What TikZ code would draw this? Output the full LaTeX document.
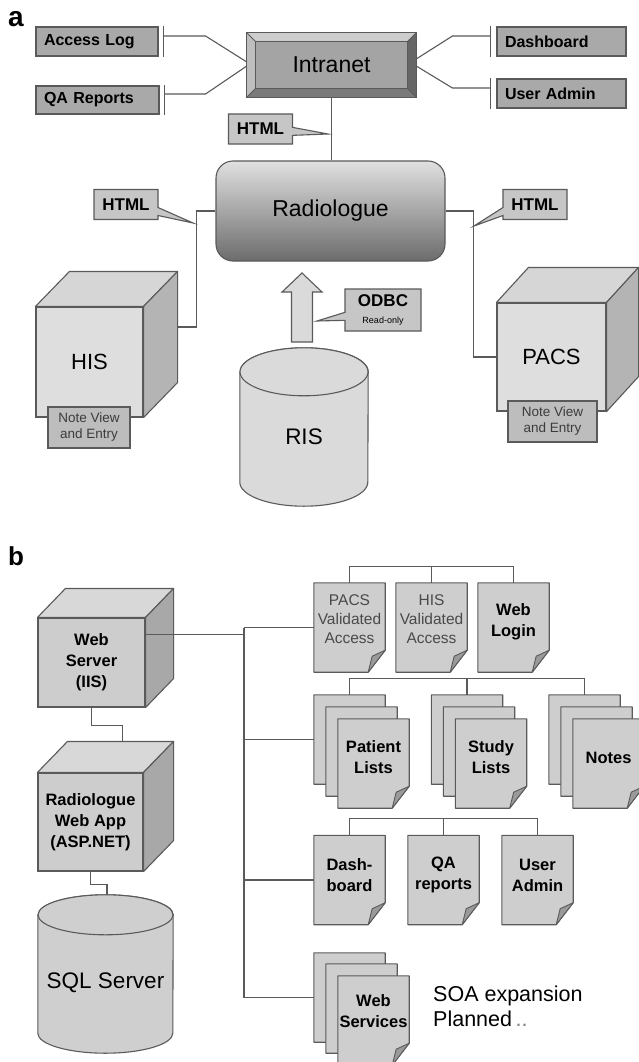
\documentclass[tikz,border=0pt]{standalone}
\usepackage{fontspec}
\setmainfont{Liberation Sans}
\usetikzlibrary{shapes.callouts,backgrounds,calc}

\definecolor{linec}{HTML}{5A5A5A}
\definecolor{boxa}{HTML}{A9A9A9}
\definecolor{calloutc}{HTML}{C6C6C6}
\definecolor{notec}{HTML}{BDBDBD}
\definecolor{notetext}{HTML}{3C3C3C}
\definecolor{cubeA}{HTML}{DEDEDE}
\definecolor{cubeAtop}{HTML}{D6D6D6}
\definecolor{cubeAside}{HTML}{B4B4B4}
\definecolor{cubeB}{HTML}{CDCDCD}
\definecolor{cubeBtop}{HTML}{D8D8D8}
\definecolor{cubeBside}{HTML}{A8A8A8}
\definecolor{docc}{HTML}{CECECE}
\definecolor{foldc}{HTML}{9A9A9A}
\definecolor{cylA}{HTML}{DADADA}
\definecolor{cylB}{HTML}{CFCFCF}
\definecolor{radtop}{HTML}{E0E0E0}
\definecolor{radbot}{HTML}{6C6C6C}
\definecolor{bevface}{HTML}{A4A4A4}
\definecolor{bevtop}{HTML}{CDCDCD}
\definecolor{bevleft}{HTML}{BEBEBE}
\definecolor{bevright}{HTML}{666666}
\definecolor{bevbot}{HTML}{7A7A7A}
\definecolor{graytext}{HTML}{4A4A4A}

\tikzset{
  conn/.style={draw=linec, line width=1.1pt},
  sideboxL/.style={draw=linec, fill=boxa, line width=1.1pt, minimum height=29pt, inner xsep=8pt, inner ysep=0pt,
    text width=106pt, align=left, font=\bfseries\fontsize{16}{19}\selectfont},
  sideboxR/.style={sideboxL, text width=113pt},
  callbox/.style={rectangle callout, draw=linec, fill=calloutc, line width=1.1pt, callout pointer width=8pt,
    minimum width=64pt, minimum height=30pt, inner sep=0pt, font=\bfseries\fontsize{17}{20}\selectfont},
  notebox/.style={draw=linec, fill=notec, line width=1.1pt, inner sep=0pt, align=center, text=notetext,
    minimum width=82pt, minimum height=41pt, font=\fontsize{13.5}{16}\selectfont},
  cubeAfront/.style={draw=linec, fill=cubeA, line width=1.1pt, inner sep=0pt, font=\fontsize{22}{26}\selectfont},
  cubeBfront/.style={draw=linec, fill=cubeB, line width=1.1pt, inner sep=0pt, align=center,
    font=\bfseries\fontsize{16.5}{21}\selectfont},
  docbox/.style={inner sep=0pt, minimum width=71pt, minimum height=89pt},
  doctextB/.style={inner sep=0pt, align=center, font=\bfseries\fontsize{16.5}{21}\selectfont},
  doctextG/.style={inner sep=0pt, align=center, text=graytext, font=\fontsize{15.5}{19}\selectfont},
  bigtext/.style={inner sep=0pt, font=\fontsize{22.5}{26}\selectfont},
  panel/.style={inner sep=0pt, font=\bfseries\fontsize{28}{30}\selectfont},
}

\newcommand\cubefaces[5]{%
  \begin{scope}[on background layer]
    \filldraw[draw=linec, fill=#4, line width=1.1pt, line join=round]
      (#1.north west) -- ($(#1.north west)+(#2,-#3)$) -- ($(#1.north east)+(#2,-#3)$) -- (#1.north east) -- cycle;
    \filldraw[draw=linec, fill=#5, line width=1.1pt, line join=round]
      (#1.north east) -- ($(#1.north east)+(#2,-#3)$) -- ($(#1.south east)+(#2,-#3)$) -- (#1.south east) -- cycle;
  \end{scope}}

\newcommand\docpage[1]{%
  \begin{scope}[on background layer]
    \filldraw[draw=linec, fill=docc, line width=1.1pt, line join=round]
      (#1.north west) -- (#1.north east) -- ($(#1.south east)+(0,-22)$) -- ($(#1.south east)+(-17,0)$) -- (#1.south west) -- cycle;
    \filldraw[draw=linec, fill=foldc, line width=0.9pt, line join=round]
      ($(#1.south east)+(0,-22)$) -- ($(#1.south east)+(-13,-16)$) -- ($(#1.south east)+(-17,0)$) -- cycle;
  \end{scope}}

\newcommand\cylfaces[4]{%
  \begin{scope}[on background layer]
    \filldraw[draw=linec, fill=#4, line width=1.1pt]
      (#1.north west) -- (#1.south west) arc[start angle=180, end angle=360, x radius=#2pt, y radius=#3pt]
      -- (#1.north east) arc[start angle=0, end angle=180, x radius=#2pt, y radius=#3pt] -- cycle;
    \filldraw[draw=linec, fill=#4, line width=1.1pt] (#1.north) ellipse[x radius=#2pt, y radius=#3pt];
  \end{scope}}

\begin{document}
\begin{tikzpicture}[x=1pt,y=-1pt]
\begin{scope}[on background layer]
  \fill[white] (0,0) rectangle (639,1062);
\end{scope}
\useasboundingbox (0,0) rectangle (639,1062);

%================ panel a ================
\node[panel] (la) at (16,19) {a};

% Intranet (bevelled)
\node[inner sep=0pt, minimum width=169pt, minimum height=64pt, font=\fontsize{23}{26}\selectfont] (intranet) at (331.5,65) {Intranet};
\begin{scope}[on background layer]
  \coordinate (iA) at ($(intranet.north west)+(9,9)$);
  \coordinate (iB) at ($(intranet.north east)+(-9,9)$);
  \coordinate (iC) at ($(intranet.south east)+(-9,-9)$);
  \coordinate (iD) at ($(intranet.south west)+(9,-9)$);
  \fill[bevtop] (intranet.north west) -- (intranet.north east) -- (iB) -- (iA) -- cycle;
  \fill[bevright] (intranet.north east) -- (intranet.south east) -- (iC) -- (iB) -- cycle;
  \fill[bevbot] (intranet.south east) -- (intranet.south west) -- (iD) -- (iC) -- cycle;
  \fill[bevleft] (intranet.south west) -- (intranet.north west) -- (iA) -- (iD) -- cycle;
  \filldraw[draw=linec, fill=bevface, line width=1pt] (iA) -- (iB) -- (iC) -- (iD) -- cycle;
  \draw[linec, line width=1.1pt] (intranet.north west) rectangle (intranet.south east);
  \draw[linec, line width=0.8pt] (intranet.north west) -- (iA) (intranet.north east) -- (iB)
     (intranet.south east) -- (iC) (intranet.south west) -- (iD);
\end{scope}

% side boxes
\node[sideboxL, minimum width=122pt] (acc) at (97,41.5) {Access Log};
\node[sideboxL, minimum width=123pt, minimum height=28pt, text width=107pt] (qa) at (97.5,100) {QA Reports};
\node[sideboxR, minimum width=129pt] (dash) at (561.5,41.5) {Dashboard};
\node[sideboxR, minimum width=129pt] (uadm) at (561.5,93.5) {User Admin};

\draw[conn] ([xshift=5pt]acc.north east) -- ([xshift=5pt]acc.south east);
\draw[conn] ([xshift=5pt,yshift=5.5pt]acc.east) -- ++(42,0) -- ([yshift=3pt]intranet.west);
\draw[conn] ([xshift=5pt]qa.north east) -- ([xshift=5pt]qa.south east);
\draw[conn] ([xshift=5pt,yshift=6pt]qa.east) -- ++(41,0) -- ([yshift=-1pt]intranet.west);
\draw[conn] ([xshift=-6pt]dash.north west) -- ([xshift=-6pt]dash.south west);
\draw[conn] ([xshift=-6pt,yshift=5.5pt]dash.west) -- ++(-38,0) -- ([yshift=6pt]intranet.east);
\draw[conn] ([xshift=-6pt]uadm.north west) -- ([xshift=-6pt]uadm.south west);
\draw[conn] ([xshift=-6pt,yshift=5.5pt]uadm.west) -- ++(-38,0) -- ([yshift=-1pt]intranet.east);

% Radiologue
\node[draw=linec, line width=1.1pt, rounded corners=17pt, top color=radtop, bottom color=radbot,
      minimum width=229pt, minimum height=100pt, inner sep=0pt, font=\fontsize{23}{26}\selectfont]
      (radio) at (330.5,211) {Radiologue};
\draw[conn] (intranet.south) -- (intranet.south |- radio.north);

% HIS cube
\node[cubeAfront, minimum width=107pt, minimum height=110pt] (his) at (89.5,362) {HIS};
\cubefaces{his}{34}{35}{cubeAtop}{cubeAside}
\node[notebox] (hisnote) at (89,427.5) {Note View\\and Entry};

% PACS cube
\node[cubeAfront, minimum width=109pt, minimum height=108pt] (pacs) at (551.5,357) {PACS};
\cubefaces{pacs}{32}{35}{cubeAtop}{cubeAside}
\node[notebox, minimum width=89pt] (pacsnote) at (552.5,421.5) {Note View\\and Entry};

\coordinate (hisR) at ($(his.east)+(34,-35)$);
\draw[conn] (radio.west) -- ++(-19,0) |- (hisR);
\draw[conn] (radio.east) -- ++(28,0) |- (pacs.west);

% RIS cylinder
\node[inner sep=0pt, minimum width=128pt, minimum height=110pt] (ris) at (304,427) {};
\cylfaces{ris}{64}{24}{cylA}
\node[bigtext] (rist) at ([yshift=-10pt]ris.center) {RIS};

% up arrow
\filldraw[draw=linec, fill=cylA, line width=1.1pt, line join=miter]
  (291.5,342) -- (291.5,292) -- (282,292) -- (302,273) -- (322,292) -- (312.5,292) -- (312.5,342) -- cycle;

% callouts
\coordinate (tipTop) at (328,134);
\coordinate (tipLeft) at (193,223);
\coordinate (tipRight) at (474,226);
\coordinate (tipOdbc) at (317,321);
\node[callbox, callout absolute pointer={(tipTop)}] (htmlT) at (260.5,129) {HTML};
\node[callbox, callout absolute pointer={(tipLeft)}] (htmlL) at (126,204.5) {HTML};
\node[callbox, callout absolute pointer={(tipRight)}] (htmlR) at (535,204.5) {HTML};
\node[callbox, callout absolute pointer={(tipOdbc)}, minimum width=76pt, minimum height=42pt, align=center]
  (odbc) at (383,310) {ODBC\\[-3pt]{\mdseries\fontsize{9}{10}\selectfont Read-only}};

%================ panel b ================
\node[panel, font=\bfseries\fontsize{26}{28}\selectfont] (lb) at (16,556) {b};

% Web server cube
\node[cubeBfront, minimum width=107pt, minimum height=89pt] (ws) at (91.5,662.5) {Web\\Server\\(IIS)};
\cubefaces{ws}{28}{29}{cubeBtop}{cubeBside}

% Web app cube
\node[cubeBfront, minimum width=105pt, minimum height=98pt] (wa) at (90.5,822) {Radiologue\\Web App\\(ASP.NET)};
\cubefaces{wa}{30}{31}{cubeBtop}{cubeBside}

% SQL server cylinder
\node[inner sep=0pt, minimum width=135pt, minimum height=118pt] (sql) at (105.5,974) {};
\cylfaces{sql}{67.5}{20}{cylB}
\node[bigtext] (sqlt) at ([yshift=-9pt]sql.center) {SQL Server};

\coordinate (waTop) at ($(wa.north)+(32,-31)$);
\coordinate (sqlTop) at ($(sql.north)+(1.5,-20)$);
\draw[conn] (ws.south) -- ++(0,18) -| (waTop);
\draw[conn] (wa.south) -- ++(0,13) -| (sqlTop);

% documents: row 1
\node[docbox] (pva) at (349.5,627.5) {}; \docpage{pva}
\node[doctextG] (pvat) at ([yshift=8pt]pva.center) {PACS\\Validated\\Access};
\node[docbox] (hva) at (431.5,627.5) {}; \docpage{hva}
\node[doctextG] (hvat) at ([yshift=8pt]hva.center) {HIS\\Validated\\Access};
\node[docbox] (wl) at (513.5,627.5) {}; \docpage{wl}
\node[doctextB] (wlt) at ([yshift=6pt]wl.center) {Web\\Login};
\draw[conn] (pva.north) -- ++(0,-16) -| (wl.north);
\draw[conn] (hva.north) -- ++(0,-16);

% row 2 stacks
\node[docbox] (pl1) at (349.5,739.5) {}; \docpage{pl1}
\node[docbox] (pl2) at (361.5,751.5) {}; \docpage{pl2}
\node[docbox] (pl3) at (373.5,763.5) {}; \docpage{pl3}
\node[doctextB] (pl3t) at ([yshift=6pt]pl3.center) {Patient\\Lists};
\node[docbox] (sl1) at (467,739.5) {}; \docpage{sl1}
\node[docbox] (sl2) at (479,751.5) {}; \docpage{sl2}
\node[docbox] (sl3) at (491,763.5) {}; \docpage{sl3}
\node[doctextB] (sl3t) at ([yshift=6pt]sl3.center) {Study\\Lists};
\node[docbox] (nt1) at (584.5,739.5) {}; \docpage{nt1}
\node[docbox] (nt2) at (596.5,751.5) {}; \docpage{nt2}
\node[docbox] (nt3) at (608.5,763.5) {}; \docpage{nt3}
\node[doctextB] (nt3t) at ([yshift=6pt]nt3.center) {Notes};
\draw[conn] (pl1.north) -- ++(0,-16) -| (nt1.north);
\draw[conn] (sl1.north) -- ++(0,-16);

% row 3
\node[docbox] (db) at (349.5,880) {}; \docpage{db}
\node[doctextB] (dbt) at ([yshift=5pt]db.center) {Dash-\\board};
\node[docbox] (qar) at (443.5,880) {}; \docpage{qar}
\node[doctextB] (qart) at ([yshift=5pt]qar.center) {QA\\reports};
\node[docbox] (ua) at (537.5,880) {}; \docpage{ua}
\node[doctextB] (uat) at ([yshift=5pt]ua.center) {User\\Admin};
\draw[conn] (db.north) -- ++(0,-17) -| (ua.north);
\draw[conn] (qar.north) -- ++(0,-17);

% web services stack
\node[docbox] (wsv1) at (349.5,997.5) {}; \docpage{wsv1}
\node[docbox] (wsv2) at (361.5,1008.5) {}; \docpage{wsv2}
\node[docbox] (wsv3) at (373.5,1020.5) {}; \docpage{wsv3}
\node[doctextB] (wsv3t) at ([yshift=9pt]wsv3.center) {Web\\Services};

\node[anchor=north west, inner sep=0pt, align=left, font=\fontsize{21.5}{25}\selectfont] (soa) at (433,986)
  {SOA expansion\\Planned{\color{gray}\,..}};

% trunk
\coordinate (tr) at (244,628);
\coordinate (wsout) at ([yshift=28pt]ws.east);
\draw[conn] (wsout) -- (wsout -| tr);
\draw[conn] (tr) -- (tr |- wsv1.west);
\draw[conn] (tr |- pva.west) -- (pva.west);
\draw[conn] (tr |- pl1.west) -- (pl1.west);
\draw[conn] (tr |- db.west) -- (db.west);
\draw[conn] (tr |- wsv1.west) -- (wsv1.west);
\end{tikzpicture}
\end{document}
